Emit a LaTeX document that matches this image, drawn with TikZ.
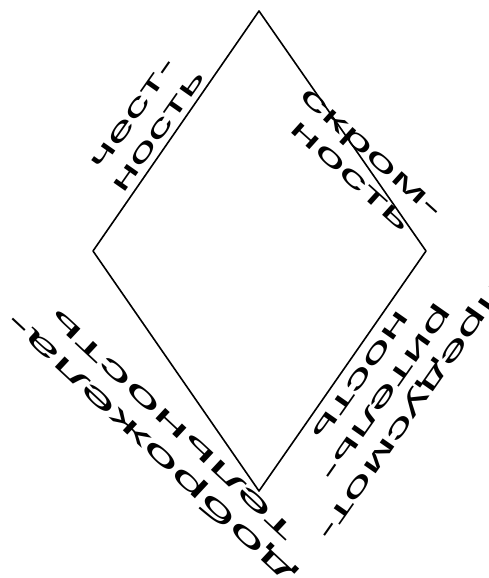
\documentclass[tikz,border=0pt]{standalone}
\usepackage{fontspec}
\setmainfont{Liberation Sans}
\tikzset{virtue/.style={align=center, inner sep=0pt,
    font=\fontsize{27}{31}\selectfont}}
\begin{document}
\begin{tikzpicture}[x=1pt, y=1pt, line join=round, line cap=round]
		\useasboundingbox (0,0) rectangle (488,578);
		\coordinate (T) at (259,567);
		\coordinate (L) at (93,327);
		\coordinate (R) at (426,327);
		\coordinate (B) at (259,87);
		\draw[line width=1.6pt] (T) -- (R) -- (B) -- (L) -- cycle;
		\node[rotate=55, xscale=2.05, virtue] (chest) at (146,455) {чест-\\ность};
		\node[rotate=-42, xscale=2.2, virtue] (skrom) at (361,413) {скром-\\ность};
		\node[rotate=137, xscale=2.6, virtue] (dobro) at (160,140) {доброжела-\\тельность};
		\node[rotate=-125, xscale=2.2, virtue] (predus) at (386,185) {предусмот-\\ритель-\\ность};
	\end{tikzpicture}
\end{document}
